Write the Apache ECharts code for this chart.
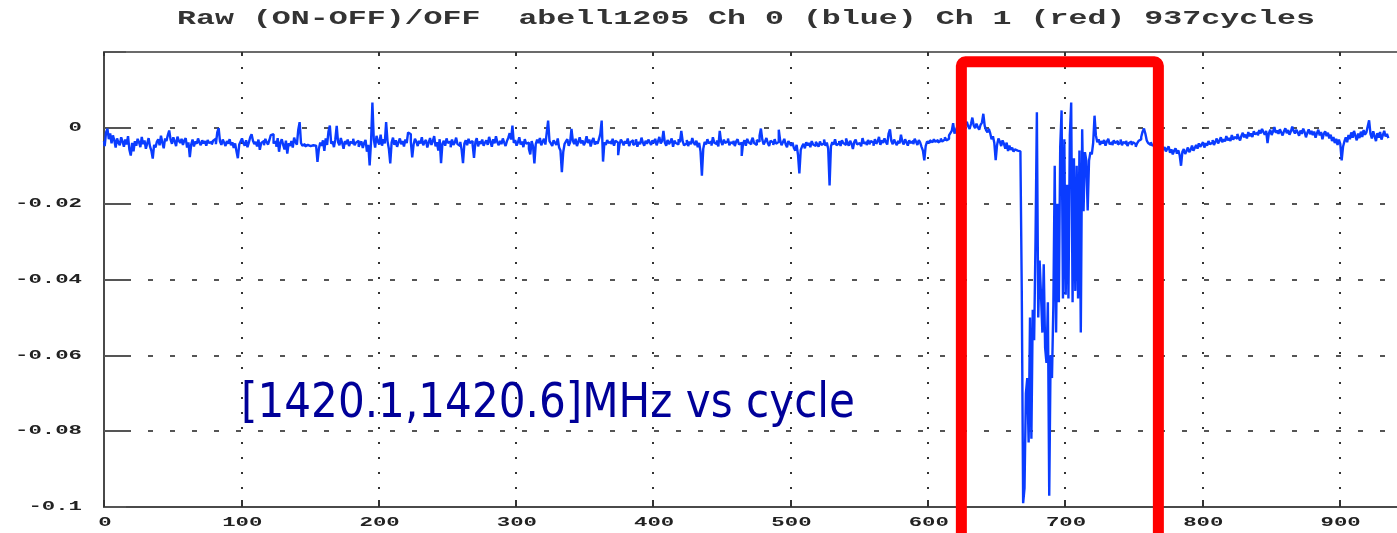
<!DOCTYPE html>
<html><head><meta charset="utf-8">
<script src="https://cdn.jsdelivr.net/npm/echarts@6/dist/echarts.min.js"></script>
<style>html,body{margin:0;padding:0;background:#fff}#c{width:1397px;height:533px}</style>
</head><body><div id="c"></div>
<script>
const titleText = 'Raw (ON-OFF)/OFF  abell1205 Ch 0 (blue) Ch 1 (red) 937cycles';
const noteText = '[1420.1,1420.6]MHz vs cycle';
const xTicks = [0, 100, 200, 300, 400, 500, 600, 700, 800, 900];
const xTickLabels = ['0', '100', '200', '300', '400', '500', '600', '700', '800', '900'];
const yTicks = [0, -0.02, -0.04, -0.06, -0.08, -0.1];
const yTickLabels = ['0', '-0.02', '-0.04', '-0.06', '-0.08', '-0.1'];
const xVisibleMax = 944;
const boxCycles = [624.5, 768];
const boxTopValue = 0.0174;
// Ch 0 (blue), one value per cycle 0..936
const ch0 = [
-0.0035,-0.0048,-0.0012,-0.0002,-0.0030,-0.0015,-0.0041,-0.0020,-0.0033,-0.0052,-0.0028,-0.0039,-0.0046,-0.0025,-0.0036,-0.0050,-0.0031,-0.0044,-0.0022,-0.0058,
-0.0073,-0.0040,-0.0062,-0.0035,-0.0047,-0.0029,-0.0038,-0.0051,-0.0024,-0.0043,-0.0033,-0.0055,-0.0041,-0.0027,-0.0049,-0.0060,-0.0081,-0.0045,-0.0052,-0.0037,
-0.0030,-0.0046,-0.0021,-0.0039,-0.0054,-0.0028,-0.0035,-0.0019,-0.0007,-0.0031,-0.0042,-0.0025,-0.0036,-0.0048,-0.0023,-0.0034,-0.0040,-0.0029,-0.0045,-0.0033,
-0.0027,-0.0052,-0.0038,-0.0077,-0.0044,-0.0031,-0.0049,-0.0036,-0.0042,-0.0028,-0.0039,-0.0046,-0.0033,-0.0041,-0.0035,-0.0047,-0.0032,-0.0040,-0.0037,-0.0044,
-0.0034,-0.0029,-0.0043,-0.0012,-0.0001,-0.0036,-0.0045,-0.0031,-0.0039,-0.0048,-0.0035,-0.0042,-0.0030,-0.0046,-0.0038,-0.0053,-0.0041,-0.0062,-0.0080,-0.0044,
-0.0036,-0.0028,-0.0040,-0.0047,-0.0033,-0.0051,-0.0039,-0.0025,-0.0017,-0.0034,-0.0043,-0.0037,-0.0049,-0.0031,-0.0058,-0.0040,-0.0035,-0.0046,-0.0029,-0.0038,
-0.0044,-0.0032,-0.0019,-0.0017,-0.0041,-0.0036,-0.0050,-0.0027,-0.0063,-0.0039,-0.0030,-0.0045,-0.0057,-0.0034,-0.0068,-0.0041,-0.0048,-0.0035,-0.0052,-0.0026,
-0.0038,-0.0044,-0.0005,0.0015,-0.0040,-0.0047,-0.0043,-0.0049,-0.0045,-0.0042,-0.0048,-0.0044,-0.0046,-0.0041,-0.0047,-0.0050,-0.0090,-0.0056,-0.0039,-0.0047,
-0.0033,-0.0061,-0.0028,-0.0045,-0.0010,0.0006,-0.0042,-0.0036,-0.0051,-0.0030,0.0005,-0.0038,-0.0046,-0.0027,-0.0040,-0.0055,-0.0035,-0.0043,-0.0031,-0.0048,
-0.0037,-0.0041,-0.0029,-0.0046,-0.0039,-0.0034,-0.0050,-0.0042,-0.0036,-0.0053,-0.0040,-0.0032,-0.0063,-0.0045,-0.0099,-0.0038,0.0067,-0.0030,-0.0052,-0.0021,
-0.0036,-0.0044,-0.0018,-0.0047,-0.0030,-0.0041,0.0015,-0.0035,-0.0055,-0.0094,-0.0039,-0.0026,-0.0045,-0.0033,-0.0050,-0.0038,-0.0028,-0.0043,-0.0035,-0.0049,
-0.0031,-0.0040,-0.0012,-0.0017,-0.0037,-0.0078,-0.0044,-0.0029,-0.0036,-0.0048,-0.0034,-0.0041,-0.0025,-0.0046,-0.0038,-0.0032,-0.0052,-0.0039,-0.0027,-0.0045,
-0.0035,-0.0022,-0.0049,-0.0038,-0.0060,-0.0030,-0.0093,-0.0042,-0.0034,-0.0047,-0.0028,-0.0040,-0.0036,-0.0051,-0.0031,-0.0045,-0.0039,-0.0026,-0.0043,-0.0048,
-0.0037,-0.0058,-0.0093,-0.0041,-0.0033,-0.0046,-0.0029,-0.0040,-0.0035,-0.0044,-0.0079,-0.0038,-0.0027,-0.0049,-0.0036,-0.0042,-0.0031,-0.0047,-0.0039,-0.0033,
-0.0045,-0.0024,-0.0037,-0.0050,-0.0030,-0.0041,-0.0022,-0.0038,-0.0046,-0.0034,-0.0043,-0.0028,-0.0039,-0.0048,-0.0035,-0.0026,-0.0014,-0.0031,0.0006,-0.0040,
-0.0032,-0.0047,-0.0038,-0.0025,-0.0044,-0.0036,-0.0051,-0.0030,-0.0042,-0.0039,-0.0056,-0.0070,-0.0035,-0.0048,-0.0094,-0.0043,-0.0031,-0.0040,-0.0027,-0.0046,
-0.0037,-0.0029,-0.0044,-0.0012,0.0019,-0.0035,-0.0041,-0.0048,-0.0033,-0.0039,-0.0045,-0.0028,-0.0052,-0.0060,-0.0117,-0.0064,-0.0042,-0.0036,-0.0030,-0.0047,
-0.0039,-0.0003,-0.0034,-0.0043,-0.0029,-0.0048,-0.0037,-0.0025,-0.0041,-0.0033,-0.0046,-0.0038,-0.0022,-0.0040,-0.0031,-0.0049,-0.0035,-0.0027,-0.0044,-0.0036,
-0.0042,-0.0030,-0.0016,0.0019,-0.0089,-0.0038,-0.0045,-0.0032,-0.0040,-0.0036,-0.0043,-0.0029,-0.0047,-0.0034,-0.0039,-0.0072,-0.0044,-0.0031,-0.0037,-0.0046,
-0.0035,-0.0041,-0.0028,-0.0048,-0.0038,-0.0033,-0.0045,-0.0040,-0.0030,-0.0050,-0.0037,-0.0043,-0.0026,-0.0039,-0.0047,-0.0034,-0.0042,-0.0031,-0.0038,-0.0045,
-0.0033,-0.0040,-0.0029,-0.0046,-0.0036,-0.0024,-0.0041,-0.0035,-0.0008,-0.0039,-0.0047,-0.0032,-0.0043,-0.0037,-0.0028,-0.0050,-0.0034,-0.0040,-0.0044,-0.0030,
-0.0038,-0.0008,-0.0035,-0.0046,-0.0041,-0.0032,-0.0048,-0.0036,-0.0043,-0.0027,-0.0039,-0.0045,-0.0034,-0.0051,-0.0040,-0.0062,-0.0126,-0.0055,-0.0037,-0.0044,
-0.0030,-0.0041,-0.0036,-0.0047,-0.0025,-0.0039,-0.0043,-0.0033,-0.0049,-0.0008,-0.0037,-0.0045,-0.0031,-0.0040,-0.0035,-0.0028,-0.0046,-0.0038,-0.0042,-0.0034,
-0.0048,-0.0036,-0.0030,-0.0044,-0.0039,-0.0074,-0.0041,-0.0033,-0.0047,-0.0029,-0.0038,-0.0043,-0.0035,-0.0026,-0.0040,-0.0045,-0.0032,-0.0037,-0.0021,-0.0002,
-0.0031,-0.0044,-0.0036,-0.0027,-0.0040,-0.0048,-0.0034,-0.0039,-0.0045,-0.0030,-0.0042,-0.0037,-0.0005,-0.0033,-0.0046,-0.0038,-0.0029,-0.0043,-0.0051,-0.0035,
-0.0041,-0.0047,-0.0039,-0.0053,-0.0060,-0.0045,-0.0071,-0.0120,-0.0058,-0.0049,-0.0042,-0.0054,-0.0038,-0.0046,-0.0040,-0.0051,-0.0035,-0.0044,-0.0048,-0.0037,
-0.0043,-0.0050,-0.0036,-0.0045,-0.0041,-0.0031,-0.0047,-0.0039,-0.0055,-0.0152,-0.0049,-0.0038,-0.0044,-0.0030,-0.0046,-0.0041,-0.0035,-0.0048,-0.0033,-0.0040,
-0.0045,-0.0028,-0.0039,-0.0047,-0.0034,-0.0042,-0.0056,-0.0037,-0.0031,-0.0044,-0.0040,-0.0036,-0.0049,-0.0027,-0.0041,-0.0038,-0.0046,-0.0032,-0.0043,-0.0035,
-0.0039,-0.0047,-0.0030,-0.0042,-0.0036,-0.0024,-0.0045,-0.0033,-0.0040,-0.0028,-0.0037,-0.0044,-0.0015,-0.0004,-0.0035,-0.0043,-0.0031,-0.0039,-0.0046,-0.0034,
-0.0041,-0.0018,-0.0036,-0.0044,-0.0030,-0.0038,-0.0047,-0.0033,-0.0040,-0.0035,-0.0043,-0.0029,-0.0037,-0.0045,-0.0032,-0.0039,-0.0050,-0.0060,-0.0086,-0.0048,
-0.0036,-0.0040,-0.0033,-0.0038,-0.0035,-0.0030,-0.0037,-0.0032,-0.0039,-0.0034,-0.0028,-0.0036,-0.0031,-0.0025,-0.0033,-0.0029,-0.0020,-0.0014,-0.0008,0.0012,
-0.0015,-0.0006,0.0003,-0.0010,0.0008,-0.0004,0.0012,-0.0002,0.0009,0.0016,0.0004,-0.0003,0.0010,0.0027,0.0006,-0.0001,0.0011,0.0002,-0.0005,0.0008,
0.0014,0.0037,0.0005,-0.0006,-0.0012,-0.0003,-0.0014,-0.0030,-0.0022,-0.0040,-0.0085,-0.0045,-0.0028,-0.0036,-0.0048,-0.0033,-0.0042,-0.0055,-0.0039,-0.0061,
-0.0047,-0.0058,-0.0052,-0.0063,-0.0057,-0.0060,-0.0055,-0.0062,-0.0060,-0.0430,-0.0990,-0.0950,-0.0700,-0.0660,-0.0830,-0.0500,-0.0820,-0.0480,-0.0560,-0.0300,
0.0041,-0.0500,-0.0350,-0.0440,-0.0540,-0.0360,-0.0580,-0.0620,-0.0460,-0.0970,-0.0600,-0.0660,-0.0470,-0.0100,-0.0540,-0.0200,-0.0460,-0.0050,0.0046,-0.0450,
-0.0030,-0.0440,-0.0150,-0.0450,-0.0020,0.0067,-0.0460,-0.0080,-0.0430,-0.0100,-0.0450,-0.0060,-0.0540,-0.0004,-0.0220,-0.0064,-0.0086,-0.0218,-0.0086,-0.0064,
-0.0070,-0.0040,0.0032,-0.0020,-0.0038,-0.0030,-0.0045,-0.0035,-0.0041,-0.0032,-0.0047,-0.0036,-0.0029,-0.0043,-0.0038,-0.0046,-0.0033,-0.0040,-0.0035,-0.0044,
-0.0039,-0.0031,-0.0046,-0.0037,-0.0042,-0.0034,-0.0048,-0.0040,-0.0036,-0.0045,-0.0038,-0.0043,-0.0050,-0.0041,-0.0035,-0.0030,-0.0024,-0.0010,-0.0002,-0.0015,
-0.0033,-0.0040,-0.0045,-0.0038,-0.0047,-0.0042,-0.0050,-0.0044,-0.0039,-0.0048,-0.0053,-0.0046,-0.0058,-0.0051,-0.0062,-0.0055,-0.0049,-0.0066,-0.0057,-0.0070,
-0.0060,-0.0054,-0.0068,-0.0059,-0.0072,-0.0100,-0.0063,-0.0056,-0.0069,-0.0061,-0.0052,-0.0064,-0.0058,-0.0047,-0.0060,-0.0053,-0.0045,-0.0055,-0.0041,-0.0050,
-0.0044,-0.0038,-0.0052,-0.0040,-0.0047,-0.0035,-0.0043,-0.0039,-0.0032,-0.0045,-0.0037,-0.0028,-0.0041,-0.0034,-0.0025,-0.0038,-0.0030,-0.0036,-0.0022,-0.0033,
-0.0027,-0.0035,-0.0019,-0.0031,-0.0024,-0.0029,-0.0016,-0.0026,-0.0033,-0.0021,-0.0013,-0.0025,-0.0018,-0.0028,-0.0011,-0.0022,-0.0015,-0.0024,-0.0009,-0.0017,
-0.0012,-0.0020,-0.0006,-0.0015,-0.0003,-0.0011,-0.0018,-0.0008,-0.0040,-0.0014,-0.0005,-0.0019,-0.0010,0.0002,-0.0013,-0.0007,-0.0016,-0.0004,-0.0012,-0.0020,
-0.0009,-0.0001,-0.0014,-0.0006,-0.0018,-0.0010,0.0003,-0.0008,-0.0015,-0.0005,-0.0012,-0.0021,-0.0007,-0.0016,-0.0002,-0.0011,-0.0025,-0.0013,-0.0004,-0.0017,
-0.0008,-0.0019,-0.0010,-0.0026,-0.0014,-0.0005,-0.0020,-0.0011,-0.0030,-0.0016,-0.0009,-0.0022,-0.0013,-0.0028,-0.0018,-0.0035,-0.0024,-0.0040,-0.0029,-0.0045,
-0.0031,-0.0042,-0.0086,-0.0050,-0.0036,-0.0025,-0.0038,-0.0019,-0.0030,-0.0012,-0.0026,-0.0008,-0.0021,-0.0033,-0.0015,-0.0027,-0.0010,-0.0024,-0.0006,-0.0018,
-0.0012,0.0004,0.0020,-0.0016,-0.0028,-0.0009,-0.0022,-0.0035,-0.0014,-0.0026,-0.0011,-0.0031,-0.0019,-0.0008,-0.0023,-0.0016,-0.0027
];

const chart = echarts.init(document.getElementById('c'), null, {renderer: 'canvas'});
chart.setOption({
  animation: false,
  backgroundColor: '#ffffff',
  grid: {left: 104, top: 52, width: 1296, height: 455, show: false, outerBoundsMode: 'none', containLabel: false},
  xAxis: [{
    type: 'value', min: 0, max: xVisibleMax, interval: 100, position: 'bottom',
    axisLine: {show: true, onZero: false, lineStyle: {color: '#4a4a4a', width: 2}},
    axisTick: {show: true, inside: true, length: 7, lineStyle: {color: '#333', width: 2}},
    axisLabel: {show: false},
    splitLine: {show: true, showMinLine: false, showMaxLine: false, lineStyle: {type: [2, 13], color: '#333', width: 2}}
  }, {
    type: 'value', min: 0, max: xVisibleMax, interval: 100, position: 'top',
    axisLine: {show: true, onZero: false, lineStyle: {color: '#6b6b6b', width: 2}},
    axisTick: {show: true, inside: true, length: 4, lineStyle: {color: '#333', width: 2}},
    axisLabel: {show: false},
    splitLine: {show: false}
  }],
  yAxis: {
    type: 'value', min: -0.1, max: 0.02, interval: 0.02,
    axisLine: {show: true, onZero: false, lineStyle: {color: '#4a4a4a', width: 2}},
    axisTick: {show: true, inside: true, length: 22, lineStyle: {color: '#555', width: 2}},
    axisLabel: {show: false},
    splitLine: {show: true, lineStyle: {type: [5, 17], color: '#555', width: 2}}
  },
  series: [{
    name: 'Ch 0', type: 'line', step: 'middle', showSymbol: false, clip: true, xAxisIndex: 0,
    lineStyle: {color: '#0a3cff', width: 2.4},
    data: ch0.map((v, i) => [i, v])
  }]
});

const mctx = document.createElement('canvas').getContext('2d');
function measure(text, font) { mctx.font = font; return mctx.measureText(text).width; }

const labelFont = 'bold 13px "Liberation Mono"';
const labelCharW = 13.4;
const graphics = [];
const titleFont = 'bold 20px "Liberation Mono"';
graphics.push({type: 'text', x: 746, y: 19, scaleX: 1138 / measure(titleText, titleFont),
  style: {text: titleText, x: 0, y: 0, font: titleFont, fill: '#333', align: 'center', verticalAlign: 'middle'}});
yTicks.forEach((v, k) => {
  const p = chart.convertToPixel({xAxisIndex: 0, yAxisIndex: 0}, [0, v]);
  const t = yTickLabels[k];
  graphics.push({type: 'text', x: 82, y: p[1], scaleX: labelCharW * t.length / measure(t, labelFont),
    style: {text: t, x: 0, y: 0, font: labelFont, fill: '#222', align: 'right', verticalAlign: 'middle'}});
});
xTicks.forEach((v, k) => {
  const p = chart.convertToPixel({xAxisIndex: 0, yAxisIndex: 0}, [v, -0.1]);
  const t = xTickLabels[k];
  graphics.push({type: 'text', x: p[0] + 1, y: 523, scaleX: labelCharW * t.length / measure(t, labelFont),
    style: {text: t, x: 0, y: 0, font: labelFont, fill: '#222', align: 'center', verticalAlign: 'middle'}});
});
const noteFont = '48px "DejaVu Sans"';
graphics.push({type: 'text', x: 241, y: 405, z: 10, scaleX: 614 / measure(noteText, noteFont),
  style: {text: noteText, x: 0, y: 0, font: noteFont, fill: '#000099', align: 'left', verticalAlign: 'middle'}});
const b1 = chart.convertToPixel({xAxisIndex: 0, yAxisIndex: 0}, [boxCycles[0], boxTopValue]);
const b2 = chart.convertToPixel({xAxisIndex: 0, yAxisIndex: 0}, [boxCycles[1], -0.13]);
graphics.push({type: 'rect', z: 20, shape: {x: b1[0], y: b1[1], width: b2[0] - b1[0], height: b2[1] - b1[1], r: 4},
  style: {fill: 'none', stroke: '#ff0000', lineWidth: 11}});
chart.setOption({graphic: graphics});
</script>
</body></html>
